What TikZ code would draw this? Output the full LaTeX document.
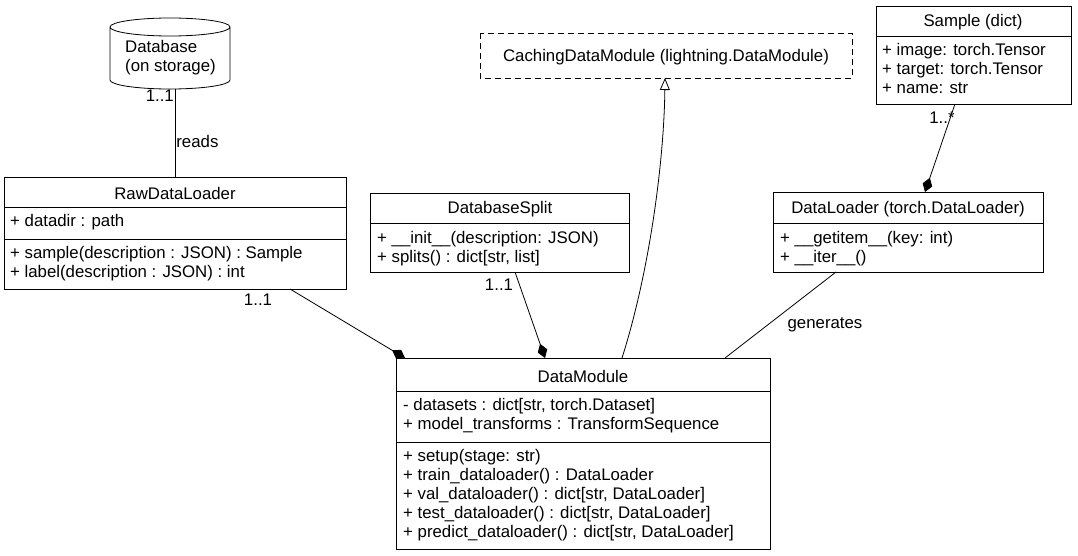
\documentclass[tikz,border=0pt]{standalone}
\usepackage{fontspec}
\setmainfont{Liberation Sans}
\usetikzlibrary{positioning,arrows.meta}

\begin{document}
\begin{tikzpicture}[
    x=1pt, y=-1pt, font=\fontsize{16.8}{19}\selectfont,
    box/.style={
      draw=black,
      line width=0.8pt
    },
    member/.style={
      anchor=north west,
      align=left,
      inner sep=0pt
    },
    title/.style={
      anchor=center,
      inner sep=0pt
    },
    link/.style={
      draw=black,
      line width=0.8pt
    },
    has/.style={
      link,
      -{Diamond[length=15pt,width=10pt]}
    },
    isa/.style={
      link,
      -{Triangle[open,length=12pt,width=10pt,fill=white]}
    },
    mult/.style={
      inner sep=1pt
    }
  ]

  \useasboundingbox (0,0) rectangle (1078,556);

  % Database
  \draw[box] (110,27) -- (110,80) arc[start angle=180, end angle=360, x radius=60, y radius=-9]
    -- (230,27) arc[start angle=0, end angle=360, x radius=60, y radius=-9];
  \node[member] (db) at (125,40) {Database\\(on storage)};
  \coordinate (dbb) at (175,89);

  % RawDataLoader
  \draw[box] (4,177) rectangle (346,289);
  \draw[box] (4,207) -- (346,207) (4,239) -- (346,239);
  \node[title] (raw) at (175,193) {RawDataLoader};
  \node[member] (rawa) at (10,214) {+ datadir : path};
  \node[member] (rawm) at (10,246) {+ sample(description : JSON) : Sample\\+ label(description : JSON) : int};
  \coordinate (rawt) at (175,177);
  \coordinate (rawb) at (290,289);

  % DatabaseSplit
  \draw[box] (370,193) rectangle (629,272);
  \draw[box] (370,223) -- (629,223);
  \node[title] (split) at (500,209) {DatabaseSplit};
  \node[member] (splitm) at (377,231) {+ \_\_init\_\_(description: JSON)\\+ splits() : dict[str, list]};
  \coordinate (splitb) at (515,272);

  % CachingDataModule
  \draw[box, dash pattern=on 6pt off 4pt] (480,33) rectangle (852,78);
  \node[title] (cache) at (666,57) {CachingDataModule (lightning.DataModule)};
  \coordinate (cacheb) at (665,78);

  % Sample
  \draw[box] (876,6) rectangle (1071,104);
  \draw[box] (876,36) -- (1071,36);
  \node[title] (sample) at (973,22) {Sample (dict)};
  \node[member] (samplea) at (882,43) {+ image: torch.Tensor\\+ target: torch.Tensor\\+ name: str};
  \coordinate (sampleb) at (955,104);

  % DataLoader
  \draw[box] (773,192) rectangle (1043,272);
  \draw[box] (773,223) -- (1043,223);
  \node[title] (loader) at (908,209) {DataLoader (torch.DataLoader)};
  \node[member] (loaderm) at (780,231) {+ \_\_getitem\_\_(key: int)\\+ \_\_iter\_\_()};
  \coordinate (loadert) at (925,192);
  \coordinate (loaderb) at (836,272);

  % DataModule
  \draw[box] (396,358) rectangle (770,549);
  \draw[box] (396,391) -- (770,391) (396,442) -- (770,442);
  \node[title] (dm) at (583,376) {DataModule};
  \node[member] (dma) at (403,398) {- datasets : dict[str, torch.Dataset]\\+ model\_transforms : TransformSequence};
  \node[member] (dmm) at (403,449) {+ setup(stage: str)\\+ train\_dataloader() : DataLoader\\+ val\_dataloader() : dict[str, DataLoader]\\+ test\_dataloader() : dict[str, DataLoader]\\+ predict\_dataloader() : dict[str, DataLoader]};
  \coordinate (dmraw) at (405,358);
  \coordinate (dmsplit) at (545,358);
  \coordinate (dmcache) at (622,358);
  \coordinate (dmload) at (725,358);

  % connectors
  \draw[link] (dbb) -- node[right, pos=0.6, inner sep=1pt] {reads} (rawt);
  \node[mult, anchor=north east] at (dbb) {1..1};
  \draw[has] (rawb) -- (dmraw);
  \node[mult] at (258,300) {1..1};
  \draw[has] (splitb) -- (dmsplit);
  \node[mult] at (499,285) {1..1};
  \draw[isa] (dmcache) .. controls (650,270) and (664,160) .. (cacheb);
  \draw[link] (loaderb) -- (dmload);
  \node[mult] at (825,325) {generates};
  \draw[has] (sampleb) -- (loadert);
  \node[mult] at (942,118) {1..*};

\end{tikzpicture}
\end{document}
